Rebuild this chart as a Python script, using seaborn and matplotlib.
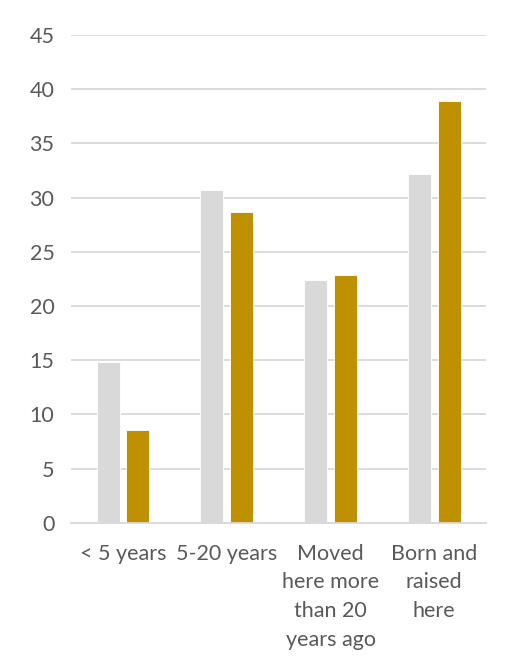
import matplotlib
matplotlib.use("Agg")
import matplotlib.pyplot as plt
import pandas as pd
import seaborn as sns

# data
categories = ["< 5 years", "5-20 years", "Moved\nhere more\nthan 20\nyears ago", "Born and\nraised\nhere"]
series_names = ["Series 1", "Series 2"]
series_1 = [14.8, 30.7, 22.4, 32.2]
series_2 = [8.6, 28.7, 22.9, 38.9]
y_ticks = [0, 5, 10, 15, 20, 25, 30, 35, 40, 45]

df = pd.DataFrame({
    "category": categories * 2,
    "series": [series_names[0]] * 4 + [series_names[1]] * 4,
    "value": series_1 + series_2,
})

sns.set_style("white")
plt.rcParams["font.family"] = ["Lato", "DejaVu Sans"]

fig = plt.figure(figsize=(5.15, 6.57), dpi=100)
ax = fig.add_axes([0.138, 0.2044, 0.806, 0.7423])

sns.barplot(data=df, x="category", y="value", hue="series",
            palette=["#D9D9D9", "#BF9000"], saturation=1,
            width=0.572, gap=0.22, legend=False, ax=ax,
            edgecolor="white", linewidth=0.6)

ax.set_ylim(0, 45)
ax.set_yticks(y_ticks)
ax.set_xlim(-0.5, 3.5)
ax.yaxis.grid(True, color="#D9D9D9", linewidth=1.3)
ax.set_axisbelow(True)
for side in ["top", "right", "left"]:
    ax.spines[side].set_visible(False)
ax.spines["bottom"].set_color("#D9D9D9")
ax.spines["bottom"].set_linewidth(1.3)
ax.tick_params(axis="both", length=0, labelsize=15.5, labelcolor="#595959")
ax.tick_params(axis="y", pad=12)
ax.tick_params(axis="x", pad=15)
for lbl in ax.get_xticklabels():
    lbl.set_linespacing(1.55)
ax.set_xlabel("")
ax.set_ylabel("")

fig.savefig("out.png", dpi=100)
